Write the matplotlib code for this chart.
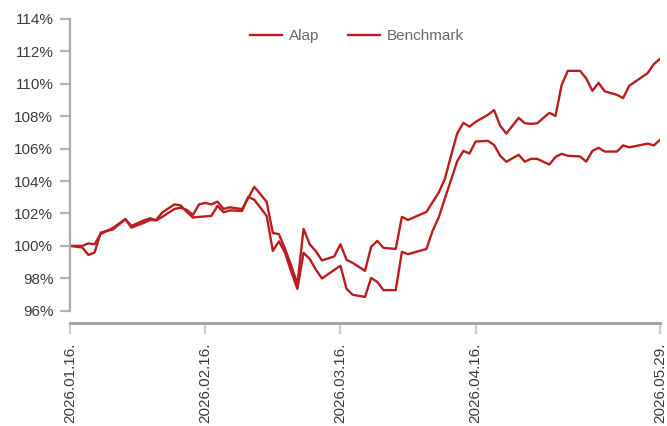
import matplotlib.pyplot as plt
import numpy             as np

# trading-day index of each data point (0 = 2026.01.16.)
day       = [0, 2, 3, 4, 5, 7, 9, 10, 12, 13, 14, 15, 17, 18, 19, 20, 21, 22, 23, 24,
             25, 26, 28, 29, 30, 32, 33, 34, 35, 36, 37, 38, 39, 40, 41, 43, 44, 45, 46, 48,
             49, 50, 51, 53, 54, 55, 58, 59, 60, 61, 62, 63, 64, 65, 66, 68, 69, 70, 71, 73,
             74, 75, 76, 78, 79, 80, 81, 83, 84, 85, 86, 87, 89, 90, 91, 94, 95, 96]

alap      = [100.00, 100.00, 100.15, 100.10, 100.74, 101.11, 101.65, 101.13, 101.42, 101.60,
             101.57, 101.79, 102.28, 102.35, 102.22, 101.91, 102.56, 102.65, 102.56, 102.73,
             102.28, 102.38, 102.27, 102.96, 103.64, 102.72, 100.80, 100.72, 99.81, 98.77,
             97.65, 101.05, 100.10, 99.67, 99.10, 99.35, 100.10, 99.14, 98.95, 98.46,
             99.94, 100.31, 99.88, 99.81, 101.79, 101.60, 102.10, 102.70, 103.29, 104.14,
             105.56, 106.94, 107.59, 107.36, 107.65, 108.09, 108.38, 107.41, 106.93, 107.90,
             107.57, 107.53, 107.56, 108.21, 108.02, 109.94, 110.80, 110.80, 110.33, 109.57,
             110.06, 109.54, 109.32, 109.12, 109.88, 110.66, 111.22, 111.54]

benchmark = [100.00, 99.90, 99.44, 99.59, 100.82, 101.02, 101.65, 101.23, 101.57, 101.70,
             101.59, 102.06, 102.56, 102.50, 102.10, 101.75, 101.79, 101.82, 101.85, 102.47,
             102.07, 102.19, 102.16, 103.02, 102.84, 101.85, 99.69, 100.28, 99.57, 98.40,
             97.35, 99.57, 99.20, 98.54, 97.99, 98.52, 98.77, 97.35, 96.98, 96.85,
             98.02, 97.78, 97.27, 97.27, 99.63, 99.49, 99.81, 100.93, 101.76, 102.93,
             104.07, 105.22, 105.86, 105.70, 106.44, 106.48, 106.23, 105.56, 105.19, 105.62,
             105.20, 105.37, 105.37, 105.02, 105.49, 105.68, 105.56, 105.52, 105.20, 105.86,
             106.05, 105.82, 105.82, 106.20, 106.08, 106.31, 106.20, 106.54]

tickDay   = [0, 22, 44, 66, 96]
tickLabel = ["2026.01.16.", "2026.02.16.", "2026.03.16.", "2026.04.16.", "2026.05.29."]
yTicks    = [96, 98, 100, 102, 104, 106, 108, 110, 112, 114]

red       = '#BA1D1D'
plt.rcParams['font.family'] = ['Liberation Sans', 'DejaVu Sans']

fig = plt.figure(figsize=(6.67, 4.26), dpi=100)
ax  = fig.add_axes([70/667, 1-310.7/426, 590/667, 291.7/426])

ax.plot(day, alap,      color=red, linewidth=1.7, label='Alap')
ax.plot(day, benchmark, color=red, linewidth=1.7, label='Benchmark')

ax.set_xlim(0, 96)
ax.set_ylim(96, 114)
ax.set_yticks(yTicks)
ax.set_yticklabels([f"{v}%" for v in yTicks])
ax.set_xticks(tickDay)
ax.set_xticklabels(tickLabel)

for s in ['top', 'right']:
    ax.spines[s].set_visible(False)
ax.spines['left'].set_color('#ababab');   ax.spines['left'].set_linewidth(1.6)
ax.spines['bottom'].set_color('#a0a0a0'); ax.spines['bottom'].set_linewidth(2.0)
ax.spines['bottom'].set_position(('outward', 9))

ax.tick_params(axis='y', length=7, width=1.6, color='#b5b5b5', pad=5, labelsize=11, labelcolor='#3c3c3c')
ax.tick_params(axis='x', length=8, width=1.6, color='#cccccc', pad=6, labelsize=11, labelcolor='#3c3c3c',
               labelrotation=90)
for lbl in ax.get_xticklabels():
    lbl.set_va('top'); lbl.set_ha('center')

fig.legend(loc='center', bbox_to_anchor=(357/667, 1-36/426), ncol=2, frameon=False,
           fontsize=11, labelcolor='#6a6a6a', handlelength=2.1, handletextpad=0.45,
           columnspacing=1.85)

fig.savefig("out.png", dpi=100)
